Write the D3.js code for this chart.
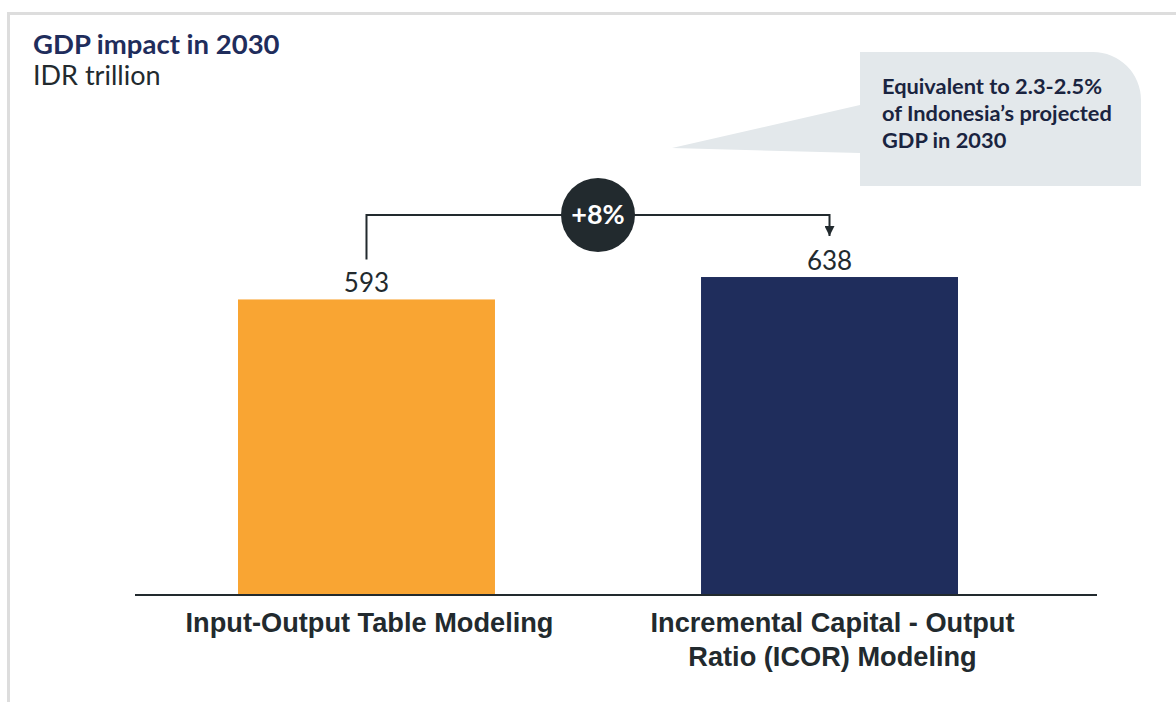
<!DOCTYPE html>
<html>
<head>
<meta charset="utf-8">
<script src="https://cdn.jsdelivr.net/npm/d3@7"></script>
<style>
  html, body { margin: 0; padding: 0; background: #fff; }
  svg { display: block; }
</style>
</head>
<body>
<svg id="chart" width="1176" height="702"></svg>
<script>
// ---- Data ----
const categories = ["Input-Output Table Modeling", "Incremental Capital - Output Ratio (ICOR) Modeling"];
const categoryLines = [["Input-Output Table Modeling"], ["Incremental Capital - Output", "Ratio (ICOR) Modeling"]];
const values = [593, 638];
const valueLabels = ["593", "638"];
const barColors = ["#F9A533", "#1F2D5C"];
const title = "GDP impact in 2030";
const subtitle = "IDR trillion";
const changeLabel = "+8%";
const calloutLines = ["Equivalent to 2.3-2.5%", "of Indonesia\u2019s projected", "GDP in 2030"];

// ---- Layout ----
const svg = d3.select("#chart");
const W = 1176, H = 702;
const baseY = 595;

const x = d3.scaleBand().domain(categories).range([238, 958]).paddingInner(0.445).paddingOuter(0);
const y = d3.scaleLinear().domain([0, 800]).range([baseY, baseY - 800 * 0.4984]);

// frame
svg.append("path")
  .attr("d", `M8.5,${H} L8.5,13.5 L${W},13.5`)
  .attr("fill", "none").attr("stroke", "#DDDDDD").attr("stroke-width", 3);

// title
svg.append("text").attr("x", 33).attr("y", 54)
  .attr("font-family", "Lato").attr("font-weight", 700).attr("font-size", 27.5)
  .attr("fill", "#1F2D5C").text(title);
svg.append("text").attr("x", 33).attr("y", 85)
  .attr("font-family", "Lato").attr("font-weight", 400).attr("font-size", 27)
  .attr("fill", "#222A2E").text(subtitle);

// callout bubble
const cx0 = 860, cy0 = 52, cx1 = 1141, cy1 = 186, rr = 48;
svg.append("path")
  .attr("d", `M${cx0},${cy0} L${cx1 - rr},${cy0} A${rr},${rr} 0 0 1 ${cx1},${cy0 + rr} L${cx1},${cy1} L${cx0},${cy1} L${cx0},153 L672,148 L${cx0},105 Z`)
  .attr("fill", "#E3E8EB");
svg.append("g").selectAll("text").data(calloutLines).join("text")
  .attr("x", 882).attr("y", (d, i) => 94 + i * 27)
  .attr("font-family", "Lato").attr("font-weight", 700).attr("font-size", 21.8)
  .attr("fill", "#1A2440").text(d => d);

// bars
svg.append("g").selectAll("rect").data(values).join("rect")
  .attr("x", (d, i) => x(categories[i]))
  .attr("width", x.bandwidth())
  .attr("y", d => y(d))
  .attr("height", d => y(0) - y(d))
  .attr("fill", (d, i) => barColors[i]);

// value labels
svg.append("g").selectAll("text").data(values).join("text")
  .attr("x", (d, i) => x(categories[i]) + x.bandwidth() / 2)
  .attr("y", d => y(d) - 7)
  .attr("text-anchor", "middle")
  .attr("font-family", "Lato").attr("font-size", 26).attr("fill", "#222A2E")
  .text((d, i) => valueLabels[i]);

// baseline axis
const axisG = svg.append("g").attr("transform", `translate(0,${baseY})`);
axisG.append("line").attr("x1", 135).attr("x2", 1097).attr("y1", 0).attr("y2", 0)
  .attr("stroke", "#222A2E").attr("stroke-width", 2);

// category labels
categoryLines.forEach((lines, i) => {
  const cxp = x(categories[i]) + x.bandwidth() / 2 + 3;
  svg.append("g").selectAll("text").data(lines).join("text")
    .attr("x", cxp).attr("y", (d, j) => 632 + j * 34)
    .attr("text-anchor", "middle")
    .attr("font-family", "Liberation Sans, Arial, sans-serif").attr("font-weight", 700).attr("font-size", 27.2)
    .attr("fill", "#222A2E").text(d => d);
});

// bracket with change
const xa = x(categories[0]) + x.bandwidth() / 2;
const xb = x(categories[1]) + x.bandwidth() / 2;
const topY = 215;
svg.append("defs").append("marker")
  .attr("id", "arr").attr("viewBox", "0 0 10 10").attr("refX", 10).attr("refY", 5)
  .attr("markerWidth", 10).attr("markerHeight", 10).attr("markerUnits", "userSpaceOnUse").attr("orient", "auto")
  .append("path").attr("d", "M0,0 L10,5 L0,10 Z").attr("fill", "#222A2E");
svg.append("path")
  .attr("d", `M${xa},${y(values[0]) - 40} L${xa},${topY} L${xb},${topY} L${xb},${y(values[1]) - 41}`)
  .attr("fill", "none").attr("stroke", "#222A2E").attr("stroke-width", 2)
  .attr("marker-end", "url(#arr)");
const midX = (x(categories[0]) + x(categories[1]) + x.bandwidth()) / 2;
svg.append("circle").attr("cx", midX).attr("cy", topY).attr("r", 37).attr("fill", "#222A2E");
svg.append("text").attr("x", midX).attr("y", topY + 9)
  .attr("text-anchor", "middle")
  .attr("font-family", "Lato").attr("font-weight", 700).attr("font-size", 27)
  .attr("fill", "#FFFFFF").text(changeLabel);
</script>
</body>
</html>
